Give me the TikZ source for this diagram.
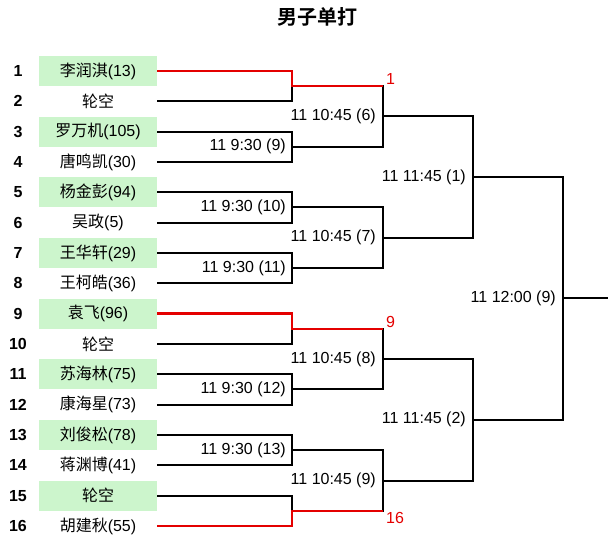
\documentclass[tikz,border=0pt]{standalone}
\usepackage{fontspec}
\setmainfont{Liberation Sans}
\newfontfamily\cjk[BoldFont={Noto Sans CJK SC Bold}]{Noto Sans CJK SC}
\usepackage{tikz}
\usetikzlibrary{calc,positioning}
\definecolor{seedgreen}{RGB}{204,245,204}
\definecolor{winred}{RGB}{228,0,0}

\begin{document}
\begin{tikzpicture}[x=1pt,y=-1pt,
  txt/.style={font=\fontsize{16}{19}\selectfont, inner sep=0pt},
  player/.style={txt, minimum width=118pt, minimum height=30pt},
  seeded/.style={player, fill=seedgreen},
  seedno/.style={txt, font=\fontsize{16}{19}\selectfont\bfseries},
  stamp/.style={txt},
  wire/.style={line width=2pt},
  winner/.style={line width=2.5pt, draw=winred},
  redno/.style={txt, text=winred}]
  \useasboundingbox (0,0) rectangle (615,540);
  \node[font=\cjk\fontsize{20}{24}\selectfont\bfseries] (title) at (317,17) {男子单打};
  \foreach \i/\st/\nm/\sc in {1/seeded/李润淇/(13), 2/player/轮空/{}, 3/seeded/罗万机/(105),
      4/player/唐鸣凯/(30), 5/seeded/杨金彭/(94), 6/player/吴政/(5), 7/seeded/王华轩/(29),
      8/player/王柯皓/(36), 9/seeded/袁飞/(96), 10/player/轮空/{}, 11/seeded/苏海林/(75),
      12/player/康海星/(73), 13/seeded/刘俊松/(78), 14/player/蒋渊博/(41), 15/seeded/轮空/{},
      16/player/胡建秋/(55)} {
    \pgfmathsetmacro\y{71+(\i-1)*30.333}
    \node[seedno] (n\i) at (18,\y) {\i};
    \node[\st] (p\i) at (98,\y) {{\cjk\nm}\sc};
  }
  \foreach \k in {1,...,8} {
    \pgfmathtruncatemacro\a{2*\k-1}
    \pgfmathtruncatemacro\b{2*\k}
    \coordinate (m\k) at ($(p\a)!.5!(p\b)+(194,0)$);
    \draw[wire] (p\a.east) -| (m\k);
    \draw[wire] (p\b.east) -| (m\k);
  }
  \foreach \k in {1,...,4} {
    \pgfmathtruncatemacro\a{2*\k-1}
    \pgfmathtruncatemacro\b{2*\k}
    \coordinate (q\k) at ($(m\a)!.5!(m\b)+(91,0)$);
    \draw[wire] (m\a) -| (q\k);
    \draw[wire] (m\b) -| (q\k);
  }
  \foreach \k in {1,2} {
    \pgfmathtruncatemacro\a{2*\k-1}
    \pgfmathtruncatemacro\b{2*\k}
    \coordinate (s\k) at ($(q\a)!.5!(q\b)+(90,0)$);
    \draw[wire] (q\a) -| (s\k);
    \draw[wire] (q\b) -| (s\k);
  }
  \coordinate (f) at ($(s1)!.5!(s2)+(90,0)$);
  \draw[wire] (s1) -| (f);
  \draw[wire] (s2) -| (f);
  \coordinate (champ) at ($(f)+(45,0)$);
  \draw[wire] (f) -- (champ);
  \draw[winner] (p1.east) -| (m1) -- (m1 -| q1);
  \draw[winner] (p9.east) -| (m5) -- (m5 -| q3);
  \draw[winner] (p16.east) -| (m8) -- (m8 -| q4);
  \node[redno, anchor=south west, xshift=3pt, yshift=1pt] (w1) at (m1 -| q1) {1};
  \node[redno, anchor=south west, xshift=3pt, yshift=1pt] (w9) at (m5 -| q3) {9};
  \node[redno, anchor=north west, xshift=3pt, yshift=-1pt] (w16) at (m8 -| q4) {16};
  \node[stamp, left=6pt of m2] (t2) {11 9:30 (9)};
  \node[stamp, left=6pt of m3] (t3) {11 9:30 (10)};
  \node[stamp, left=6pt of m4] (t4) {11 9:30 (11)};
  \node[stamp, left=6pt of m6] (t6) {11 9:30 (12)};
  \node[stamp, left=6pt of m7] (t7) {11 9:30 (13)};
  \node[stamp, left=7pt of q1] (u1) {11 10:45 (6)};
  \node[stamp, left=7pt of q2] (u2) {11 10:45 (7)};
  \node[stamp, left=7pt of q3] (u3) {11 10:45 (8)};
  \node[stamp, left=7pt of q4] (u4) {11 10:45 (9)};
  \node[stamp, left=7pt of s1] (v1) {11 11:45 (1)};
  \node[stamp, left=7pt of s2] (v2) {11 11:45 (2)};
  \node[stamp, left=7pt of f] (ft) {11 12:00 (9)};
\end{tikzpicture}
\end{document}
